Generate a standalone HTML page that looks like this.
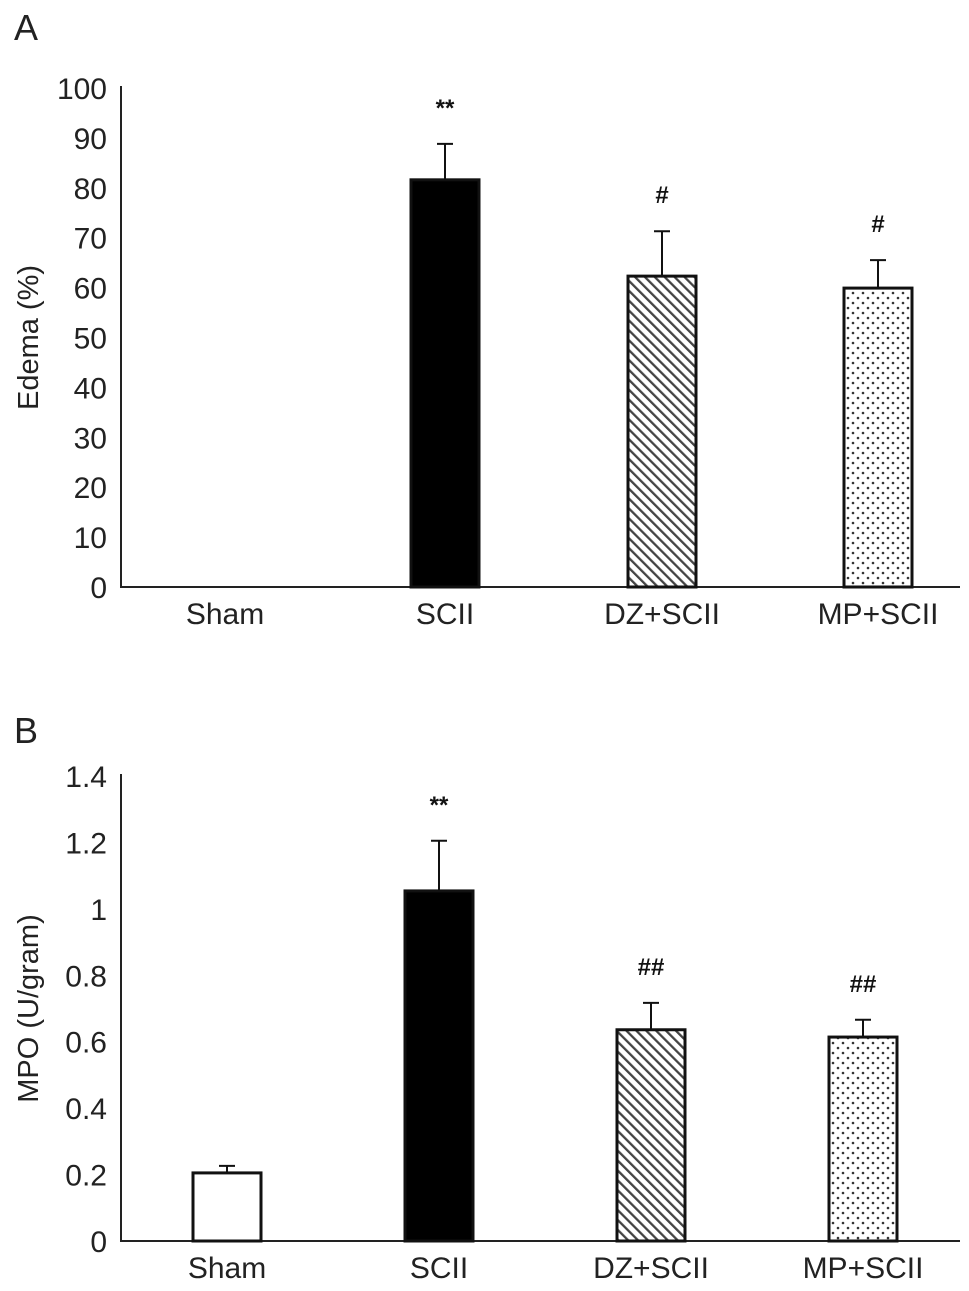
<!DOCTYPE html>
<html><head><meta charset="utf-8"><style>
body{margin:0;background:#fff;}
svg{display:block;font-family:"Liberation Sans",Arial,sans-serif;}
</style></head><body>
<svg id="c" width="969" height="1291" viewBox="0 0 969 1291">
<defs>
<pattern id="hatch" width="7" height="7" patternUnits="userSpaceOnUse" patternTransform="rotate(-45)">
<rect width="7" height="7" fill="#fff"/><rect x="0" y="0" width="2.3" height="7" fill="#444"/>
</pattern>
<pattern id="dots" width="10" height="10" patternUnits="userSpaceOnUse">
<rect width="10" height="10" fill="#fff"/><circle cx="3" cy="3" r="1.3" fill="#333"/><circle cx="8" cy="8" r="1.3" fill="#333"/>
</pattern>
</defs>
</svg>
<script>
const categories=["Sham","SCII","DZ+SCII","MP+SCII"];
const edemaValues=[0,81.6,62.3,59.9];
const edemaErrors=[0,7.2,9.0,5.6];
const edemaSig=["","**","#","#"];
const edemaTicks=[0,10,20,30,40,50,60,70,80,90,100];
const mpoValues=[0.205,1.054,0.636,0.614];
const mpoErrors=[0.021,0.151,0.081,0.052];
const mpoSig=["","**","##","##"];
const mpoTicks=["0","0.2","0.4","0.6","0.8","1","1.2","1.4"];
const fills=["#fff","#000","url(#hatch)","url(#dots)"];
const svg=document.getElementById('c');
const NS="http://www.w3.org/2000/svg";
function mk(tag,attrs,text){const e=document.createElementNS(NS,tag);for(const k in attrs)e.setAttribute(k,attrs[k]);if(text!==undefined)e.textContent=text;svg.appendChild(e);return e;}
function panel(p){
  const y=v=>p.y0-(v-p.min)/(p.max-p.min)*(p.y0-p.yTop);
  const lt=mk('text',{x:14,y:p.letterY,'font-size':36,fill:'#222'},p.letter);
  
  
  const ya=mk('line',{x1:121,y1:p.yTop-2,x2:121,y2:p.y0,stroke:'#222','stroke-width':2});
  
  
  const xa=mk('line',{x1:120,y1:p.y0,x2:960,y2:p.y0,stroke:'#222','stroke-width':2});
  
  
  p.ticks.forEach(t=>{
    const tx=mk('text',{x:107,y:y(+t)+11,'font-size':30,'text-anchor':'end',fill:'#222'},t);
    
    
  });
  const ty=(p.y0+p.yTop)/2;
  const tt=mk('text',{x:38,y:ty,'font-size':29,'text-anchor':'middle',fill:'#222',transform:'rotate(-90 38 '+ty+')'},p.title);
  
  
  categories.forEach((c,i)=>{
    const cx=p.centers[i];
    const lb=mk('text',{x:cx,y:p.y0+37,'font-size':30,'text-anchor':'middle',fill:'#222'},c);
    
    
    const v=p.values[i];
    if(v<=0)return;
    const top=y(v);
    const b=mk('rect',{x:cx-34,y:top,width:68,height:p.y0-top,fill:fills[i],stroke:'#111','stroke-width':3});
    
    
    const et=y(v+p.errors[i]);
    const el=mk('path',{d:`M${cx} ${top}V${et}M${cx-8} ${et}H${cx+8}`,stroke:'#111','stroke-width':2,fill:'none'});
    
    
    if(p.sig[i]){
      const s=mk('text',{x:cx,y:et-28,'font-size':24,'font-weight':'bold','text-anchor':'middle',fill:'#111'},p.sig[i]);
      
      
    }
  });
}
panel({letter:'A',letterY:40,y0:587,yTop:88,min:0,max:100,ticks:edemaTicks.map(String),title:'Edema (%)',values:edemaValues,errors:edemaErrors,sig:edemaSig,centers:[225,445,662,878]});
panel({letter:'B',letterY:743,y0:1241,yTop:776,min:0,max:1.4,ticks:mpoTicks,title:'MPO (U/gram)',values:mpoValues,errors:mpoErrors,sig:mpoSig,centers:[227,439,651,863]});
</script>
</body></html>
